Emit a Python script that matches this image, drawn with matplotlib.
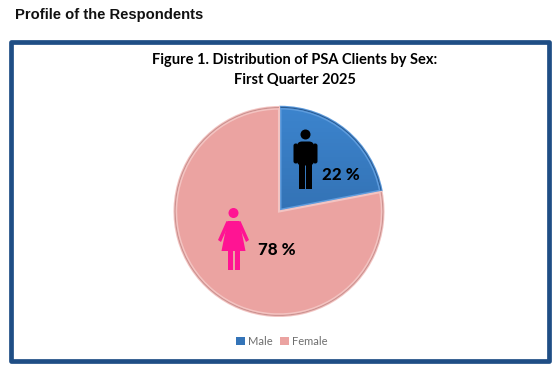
import numpy as np
import matplotlib
matplotlib.use("Agg")
import matplotlib.pyplot as plt
from matplotlib.patches import Circle, Polygon, Rectangle, FancyBboxPatch, Wedge

# Datos
categorias = ["Male", "Female"]
valores = [22, 78]
colores = ["#3474B8", "#EBA3A1"]
separacion = [0.022, 0.0]

W, H = 559, 372
fig = plt.figure(figsize=(W / 100, H / 100), dpi=100, facecolor="white")

# Capa en pixeles para marco, textos e iconos
capa = fig.add_axes([0, 0, 1, 1], zorder=3)
capa.set_xlim(0, W)
capa.set_ylim(H, 0)
capa.axis("off")
capa.patch.set_alpha(0)

capa.text(15, 14.5, "Profile of the Respondents", fontsize=10.6, fontweight="bold",
          family="Liberation Sans", color="#111111", ha="left", va="center")
capa.add_patch(Rectangle((10.5, 41.5), 538, 319.5, fill=False, ec="#1F4E85", lw=3.4,
                         joinstyle="round"))
capa.text(295, 60, "Figure 1. Distribution of PSA Clients by Sex:", fontsize=10.5,
          fontweight="bold", family="Lato", color="black", ha="center", va="center")
capa.text(295, 80, "First Quarter 2025", fontsize=10.5,
          fontweight="bold", family="Lato", color="black", ha="center", va="center")

# Pastel
radio_px = 104.5
ancho = radio_px * 2.5
ax = fig.add_axes([(279 - ancho / 2) / W, 1 - (211.5 + ancho / 2) / H, ancho / W, ancho / H])
wedges, _ = ax.pie(valores, colors=colores, startangle=90, counterclock=False,
                   explode=separacion, radius=1.0, wedgeprops={"linewidth": 0})
wedges[0].set_radius(0.985)


def degradado(w, arriba, abajo):
    c1 = np.array(matplotlib.colors.to_rgb(arriba))
    c2 = np.array(matplotlib.colors.to_rgb(abajo))
    t = np.linspace(0, 1, 64)[:, None, None]
    img = c1[None, None, :] * (1 - t) + c2[None, None, :] * t
    im = ax.imshow(img, extent=(-1.1, 1.1, -1.1, 1.1), origin="upper", aspect="auto", zorder=2)
    im.set_clip_path(w)


degradado(wedges[0], "#3D86D0", "#2A5F9A")

# Bisel de cada porcion
biseles = [("#5E9CDD", "#2A5C94"), ("#F3C4C2", "#CC9391")]
for w, (claro, oscuro) in zip(wedges, biseles):
    cx, cy = w.center
    ax.add_patch(Wedge((cx, cy), w.r, w.theta1, w.theta2, fill=False, ec=claro, lw=1.5, zorder=3))
    ax.add_patch(Wedge((cx, cy), w.r, w.theta1, w.theta2, width=0.012, fc=oscuro, lw=0, zorder=4))
    ax.add_patch(Wedge((cx, cy), w.r - 0.012, w.theta1, w.theta2, width=0.014, fc=claro, lw=0, zorder=4))
ax.set_xlim(-1.25, 1.25)
ax.set_ylim(-1.25, 1.25)

# Etiquetas
capa.text(341, 175.5, f"{valores[0]} %", fontsize=12.2, fontweight=900, family="Lato",
          color="black", ha="center", va="center")
capa.text(277, 250, f"{valores[1]} %", fontsize=12.2, fontweight=900, family="Lato",
          color="black", ha="center", va="center")


# Iconos
def hombre(x, y, color):
    capa.add_patch(Circle((x, y + 5), 5, fc=color, lw=0))
    capa.add_patch(FancyBboxPatch((x - 8.5, y + 12), 17, 24, boxstyle="round,pad=0,rounding_size=5", fc=color, lw=0))
    capa.add_patch(FancyBboxPatch((x - 12, y + 14), 4.6, 20, boxstyle="round,pad=0,rounding_size=2.2", fc=color, lw=0))
    capa.add_patch(FancyBboxPatch((x + 7.4, y + 14), 4.6, 20, boxstyle="round,pad=0,rounding_size=2.2", fc=color, lw=0))
    capa.add_patch(Rectangle((x - 6.5, y + 30), 6.1, 29, fc=color, lw=0))
    capa.add_patch(Rectangle((x + 0.6, y + 30), 6.1, 29, fc=color, lw=0))


def mujer(x, y, color):
    capa.add_patch(Circle((x, y + 5), 5, fc=color, lw=0))
    capa.add_patch(Polygon([(x - 6, y + 13), (x + 6, y + 13), (x + 12, y + 43), (x - 12, y + 43)],
                           closed=True, fc=color, lw=0))
    capa.add_patch(Polygon([(x - 7, y + 13), (x - 4, y + 15), (x - 12.5, y + 34), (x - 15.5, y + 32)],
                           closed=True, fc=color, lw=0))
    capa.add_patch(Polygon([(x + 7, y + 13), (x + 4, y + 15), (x + 12.5, y + 34), (x + 15.5, y + 32)],
                           closed=True, fc=color, lw=0))
    capa.add_patch(Rectangle((x - 5.5, y + 42), 5, 20, fc=color, lw=0))
    capa.add_patch(Rectangle((x + 1, y + 42), 5, 20, fc=color, lw=0))


hombre(305.5, 129.5, "black")
mujer(233.5, 208, "#FF1493")

# Leyenda
fig.legend(wedges, categorias, ncol=2, loc="center", bbox_to_anchor=(281.5 / W, 1 - 341.5 / H),
           frameon=False, prop={"family": "Lato", "size": 8}, labelcolor="#6E6E6E",
           handlelength=0.8, handleheight=0.8, handletextpad=0.25, columnspacing=0.7)

fig.savefig("out.png", dpi=100, facecolor="white")
